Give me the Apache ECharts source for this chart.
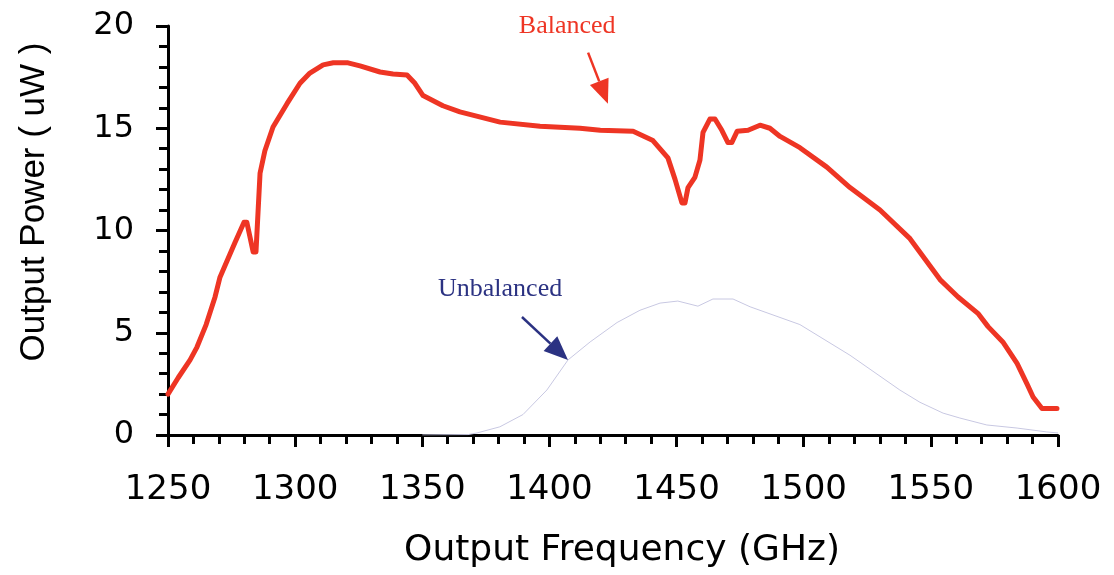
<!DOCTYPE html>
<html>
<head>
<meta charset="utf-8">
<script src="https://cdn.jsdelivr.net/npm/echarts@6/dist/echarts.min.js"></script>
<style>
  html, body { margin: 0; padding: 0; background: #fff; }
  #chart { width: 1114px; height: 575px; }
</style>
</head>
<body>
<div id="chart"></div>
<script>
// Balanced mixer output (red, thick)
const balFreq = [1250, 1254, 1258.7, 1261.4, 1265, 1268.5, 1270.4, 1276.3, 1279.9, 1281, 1283.5, 1284.6,
  1286.2, 1288.1, 1291.3, 1296.8, 1301.9, 1305.8, 1311, 1315, 1320.8, 1325.5, 1333.4, 1338.5, 1344,
  1347.1, 1350.3, 1358.1, 1364.8, 1380.6, 1396.3, 1412, 1420, 1432.9, 1440.7, 1446.6, 1449.4, 1452.1,
  1453.3, 1454.5, 1457.2, 1459.2, 1460.4, 1463.1, 1465.1, 1467.8, 1470.2, 1471.7, 1473.8, 1478.1,
  1482.8, 1486.7, 1490.7, 1498.5, 1509.1, 1518.2, 1530, 1541.8, 1553.6, 1560.7, 1568.5, 1572.5,
  1578.3, 1583.9, 1587.8, 1590.2, 1593.7, 1599.6];
const balPower = [2.0, 2.8, 3.67, 4.3, 5.4, 6.75, 7.7, 9.4, 10.4, 10.4, 8.95, 8.95,
  12.8, 13.9, 15.06, 16.2, 17.2, 17.7, 18.1, 18.2, 18.2, 18.05, 17.75, 17.65, 17.6,
  17.2, 16.6, 16.1, 15.8, 15.3, 15.1, 15.0, 14.9, 14.85, 14.4, 13.55, 12.5, 11.35,
  11.35, 12.1, 12.6, 13.45, 14.8, 15.45, 15.45, 14.9, 14.3, 14.3, 14.85, 14.9,
  15.15, 15.0, 14.6, 14.05, 13.1, 12.1, 11.0, 9.6, 7.6, 6.75, 5.95, 5.3,
  4.55, 3.5, 2.5, 1.86, 1.3, 1.3];

// Unbalanced mixer output (thin, light)
const unbFreq = [1350, 1368, 1371.5, 1380.5, 1389.6, 1399, 1407.3, 1416, 1426.6, 1435.6, 1443.5,
  1450.5, 1458.4, 1464.3, 1472.2, 1478.9, 1498.5, 1518.2, 1537.8, 1545.7, 1554.8, 1561.4, 1572,
  1583.9, 1595.6, 1600];
const unbPower = [0, 0.02, 0.1, 0.4, 1.0, 2.2, 3.67, 4.55, 5.5, 6.1, 6.45,
  6.55, 6.3, 6.65, 6.65, 6.27, 5.4, 3.9, 2.2, 1.6, 1.07, 0.83, 0.49,
  0.34, 0.15, 0.1];

// annotation anchors in data units: label centre, arrow tail, arrow tip
const balNote = { text: 'Balanced', label: [1407, 20.0], tail: [1415.2, 18.7], tip: [1423, 16.2] };
const unbNote = { text: 'Unbalanced', label: [1380.6, 7.14], tail: [1389.2, 5.77], tip: [1407.3, 3.67] };

const RED = '#ee3524';
const NAVY = '#2b3282';

const zip = (xs, ys) => xs.map((x, i) => [x, ys[i]]);

const chart = echarts.init(document.getElementById('chart'));

const axisCommon = {
  axisLine: { show: true, lineStyle: { color: '#000', width: 3 } },
  axisTick: { show: true, inside: false, length: 12, lineStyle: { color: '#000', width: 3 } },
  minorTick: { show: true, splitNumber: 5, length: 9, lineStyle: { color: '#000', width: 3 } },
  splitLine: { show: false },
  minorSplitLine: { show: false }
};

chart.setOption({
  animation: false,
  backgroundColor: '#fff',
  grid: { left: 168, right: 56, top: 26, bottom: 140 },
  xAxis: Object.assign({
    type: 'value',
    min: 1250,
    max: 1600,
    interval: 50,
    axisLabel: {
      color: '#000', fontSize: 34, fontFamily: 'DejaVu Sans', margin: 38,
      formatter: v => String(v)
    }
  }, axisCommon),
  yAxis: Object.assign({
    type: 'value',
    min: 0,
    max: 20,
    interval: 5,
    axisLabel: {
      color: '#000', fontSize: 32, fontFamily: 'DejaVu Sans', margin: 34,
      formatter: v => String(v)
    }
  }, axisCommon),
  series: [
    {
      name: 'Unbalanced',
      type: 'line',
      data: zip(unbFreq, unbPower),
      showSymbol: false,
      lineStyle: { color: '#c8c8e2', width: 1 },
      z: 2
    },
    {
      name: 'Balanced',
      type: 'line',
      data: zip(balFreq, balPower),
      showSymbol: false,
      lineStyle: { color: RED, width: 5, join: 'round', cap: 'round' },
      z: 3
    }
  ]
});

function arrow(note, color) {
  const a = chart.convertToPixel({ gridIndex: 0 }, note.tail);
  const b = chart.convertToPixel({ gridIndex: 0 }, note.tip);
  const dx = b[0] - a[0], dy = b[1] - a[1];
  const len = Math.sqrt(dx * dx + dy * dy);
  const ux = dx / len, uy = dy / len;
  const headLen = 24, headW = 10;
  const bx = b[0] - ux * headLen, by = b[1] - uy * headLen;
  const lbl = chart.convertToPixel({ gridIndex: 0 }, note.label);
  return [
    {
      type: 'line',
      shape: { x1: a[0], y1: a[1], x2: bx, y2: by },
      style: { stroke: color, lineWidth: 2.5 }
    },
    {
      type: 'polygon',
      shape: { points: [[b[0], b[1]], [bx - uy * headW, by + ux * headW], [bx + uy * headW, by - ux * headW]] },
      style: { fill: color }
    },
    {
      type: 'text',
      x: lbl[0],
      y: lbl[1],
      style: {
        text: note.text,
        fill: color,
        font: '26px "Liberation Serif"',
        textAlign: 'center',
        textVerticalAlign: 'middle'
      }
    }
  ];
}

chart.setOption({
  graphic: [
    ...arrow(balNote, RED),
    ...arrow(unbNote, NAVY),
    {
      type: 'text',
      x: 622,
      y: 551,
      style: {
        text: 'Output Frequency (GHz)',
        fill: '#000',
        font: '36px "DejaVu Sans"',
        textAlign: 'center',
        textVerticalAlign: 'middle'
      }
    },
    {
      type: 'text',
      x: 34,
      y: 202,
      rotation: Math.PI / 2,
      style: {
        text: 'Output Power ( uW )',
        fill: '#000',
        font: '35px "Liberation Sans"',
        textAlign: 'center',
        textVerticalAlign: 'middle'
      }
    }
  ]
});
</script>
</body>
</html>
